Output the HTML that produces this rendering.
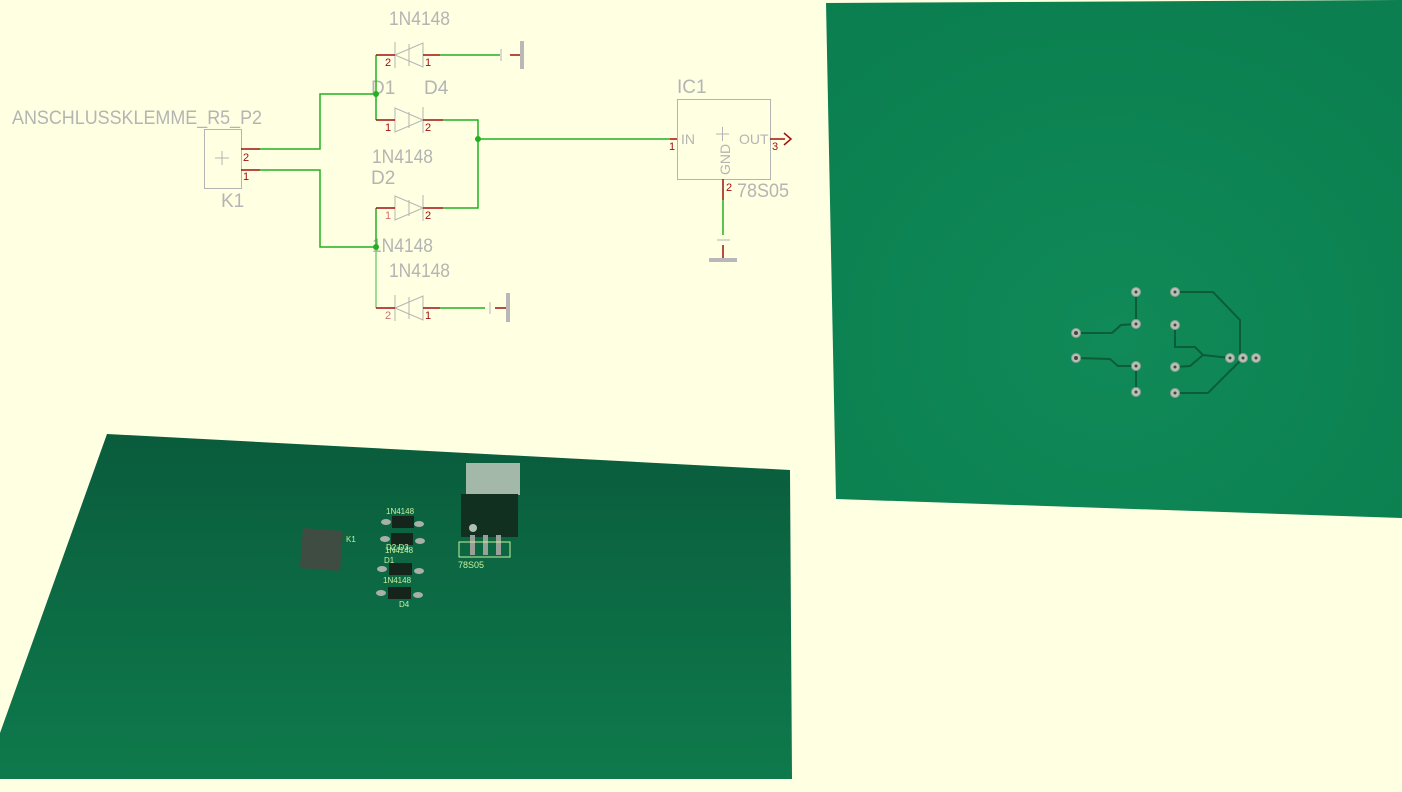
<!DOCTYPE html>
<html><head><meta charset="utf-8"><style>
html,body{margin:0;padding:0;background:#ffffe2;}
svg{display:block}
text{font-family:"Liberation Sans",sans-serif;}
</style></head><body>
<svg width="1402" height="792" viewBox="0 0 1402 792" xmlns="http://www.w3.org/2000/svg">
<defs>
<linearGradient id="g1" x1="0" y1="0" x2="0" y2="1">
<stop offset="0" stop-color="#0a5c3c"/><stop offset="1" stop-color="#0e7a4c"/>
</linearGradient>
<radialGradient id="g2" cx="0.5" cy="0.65" r="0.7">
<stop offset="0" stop-color="#108a58"/><stop offset="1" stop-color="#0b7f4f"/>
</radialGradient>
</defs>
<rect width="1402" height="792" fill="#ffffe2"/>
<!-- right PCB -->
<polygon points="826,3 1402,0 1402,518 836,499" fill="url(#g2)"/>
<g stroke="#0b5c38" stroke-width="2" fill="none">
<polyline points="1136,292 1136,324"/>
<polyline points="1076,333 1112,333 1121,325 1136,324"/>
<polyline points="1076,358 1110,359 1118,366 1136,366 1136,392"/>
<polyline points="1175,292 1213,292 1240,320 1240,358"/>
<polyline points="1175,325 1175,347 1195,347 1203,355 1230,358"/>
<polyline points="1175,367 1190,366 1203,355"/>
<polyline points="1175,393 1208,393 1243,358"/>
</g>
<g fill="#b8c0b8" stroke="#8ca08f" stroke-width="1">
<circle cx="1136" cy="292" r="4.5"/><circle cx="1175" cy="292" r="4.5"/>
<circle cx="1136" cy="324" r="4.5"/><circle cx="1175" cy="325" r="4.5"/>
<circle cx="1076" cy="333" r="4.5"/><circle cx="1076" cy="358" r="4.5"/>
<circle cx="1136" cy="366" r="4.5"/><circle cx="1175" cy="367" r="4.5"/>
<circle cx="1136" cy="392" r="4.5"/><circle cx="1175" cy="393" r="4.5"/>
<circle cx="1230" cy="358" r="4.5"/><circle cx="1243" cy="358" r="4.5"/><circle cx="1256" cy="358" r="4.5"/>
</g>
<g fill="#444">
<circle cx="1136" cy="292" r="1.5"/><circle cx="1175" cy="292" r="1.5"/><circle cx="1136" cy="324" r="1.5"/><circle cx="1175" cy="325" r="1.5"/><circle cx="1076" cy="333" r="2"/><circle cx="1076" cy="358" r="2"/><circle cx="1136" cy="366" r="1.5"/><circle cx="1175" cy="367" r="1.5"/><circle cx="1136" cy="392" r="1.5"/><circle cx="1175" cy="393" r="1.5"/><circle cx="1230" cy="358" r="1.5"/><circle cx="1243" cy="358" r="1.5"/><circle cx="1256" cy="358" r="1.5"/>
</g>
<!-- bottom PCB -->
<polygon points="107,434 790,470 792,779 0,779 0,733" fill="url(#g1)"/>
<polygon points="303,528 343,531 340,571 300,568" fill="#3f4c42"/>
<text x="346" y="542" font-size="8" fill="#c8f0a0">K1</text>
<!-- diodes -->
<g>
<g fill="#a8b0a8"><ellipse cx="386" cy="522" rx="5" ry="3"/><ellipse cx="419" cy="524" rx="5" ry="3"/><ellipse cx="385" cy="539" rx="5" ry="3"/><ellipse cx="420" cy="541" rx="5" ry="3"/><ellipse cx="382" cy="569" rx="5" ry="3"/><ellipse cx="419" cy="571" rx="5" ry="3"/><ellipse cx="381" cy="593" rx="5" ry="3"/><ellipse cx="418" cy="595" rx="5" ry="3"/></g>
<g fill="#15251c"><rect x="392" y="516" width="22" height="12"/><rect x="391" y="533" width="22" height="12"/><rect x="389" y="563" width="23" height="12"/><rect x="388" y="587" width="23" height="12"/></g>
<g fill="#c8f0a0" font-size="8"><text x="386" y="514">1N4148</text><text x="386" y="550">D2 D3</text><text x="385" y="553">1N4148</text><text x="384" y="563">D1</text><text x="383" y="583">1N4148</text><text x="399" y="607">D4</text></g>
</g>
<!-- IC -->
<rect x="466" y="463" width="54" height="32" fill="#a3b8a8"/>
<rect x="461" y="494" width="57" height="43" fill="#12301f"/>
<circle cx="473" cy="528" r="4" fill="#b0c0b0"/>
<g fill="#98a098"><rect x="470" y="535" width="5" height="20"/><rect x="483" y="535" width="5" height="20"/><rect x="496" y="535" width="5" height="20"/></g>
<rect x="459" y="542" width="51" height="15" fill="none" stroke="#c8f0a0" stroke-width="1"/>
<text x="458" y="568" font-size="9" fill="#c8f0a0">78S05</text>
<!-- schematic -->
<g font-size="19" fill="#b4b4b4">
<text x="12" y="124" textLength="250" lengthAdjust="spacingAndGlyphs">ANSCHLUSSKLEMME_R5_P2</text>
<text x="221" y="207">K1</text>
<text x="389" y="25" textLength="61" lengthAdjust="spacingAndGlyphs">1N4148</text>
<text x="371" y="94">D1</text><text x="424" y="94">D4</text>
<text x="372" y="163" textLength="61" lengthAdjust="spacingAndGlyphs">1N4148</text>
<text x="371" y="184">D2</text>
<text x="372" y="252" textLength="61" lengthAdjust="spacingAndGlyphs">1N4148</text>
<text x="389" y="277" textLength="61" lengthAdjust="spacingAndGlyphs">1N4148</text>
<text x="677" y="93">IC1</text>
<text x="737" y="197" textLength="52" lengthAdjust="spacingAndGlyphs">78S05</text>
</g>
<g font-size="14" fill="#b4b4b4">
<text x="681" y="144">IN</text><text x="739" y="144">OUT</text>
<text transform="translate(730,175) rotate(-90)">GND</text>
</g>
<!-- K1 box -->
<g stroke="#b4b4b4" fill="none" stroke-width="1">
<rect x="204.5" y="129.5" width="37" height="59"/>
<path d="M215 158h14M222 151v14"/>
<rect x="677.5" y="99.5" width="93" height="80"/>
<path d="M716 134h13M722.5 127v14"/>
<path d="M501 49v12M490 302v12M717 240h13"/>
<!-- diode triangles -->
<path d="M395 55 L423 43 L423 67 Z M395 42v26 M409 44v22"/>
<path d="M395 108 L395 132 L423 120 Z M423 107v26 M409 112v16"/>
<path d="M395 196 L395 220 L423 208 Z M423 195v26 M409 200v16"/>
<path d="M395 308 L423 296 L423 320 Z M395 295v26 M409 297v22"/>
</g>
<!-- green wires -->
<g stroke="#22b022" stroke-width="1.5" fill="none">
<polyline points="260,149 320,149 320,94 376,94"/>
<polyline points="260,170 320,170 320,247 376,247"/>
<polyline points="376,55 376,120"/>
<polyline points="376,208 376,247"/>
<polyline points="440,55 500,55"/>
<polyline points="443,120 478,120 478,208 443,208"/>
<polyline points="478,139 670,139"/>
<polyline points="440,308 485,308"/>
<polyline points="723,200 723,235"/>
</g>
<polyline points="376,247 376,308" stroke="#7ad07a" stroke-width="1.5" fill="none"/>
<g fill="#22b022"><circle cx="376" cy="94" r="3"/><circle cx="376" cy="247" r="3"/><circle cx="478" cy="139" r="3"/></g>
<!-- red pins -->
<g stroke="#a01010" stroke-width="1.5" fill="none">
<path d="M241 149h19M241 170h19"/>
<path d="M376 55h19M423 55h17M510 55h12"/>
<path d="M376 120h19M423 120h20"/>
<path d="M376 208h19M423 208h20"/>
<path d="M376 308h19M423 308h17M495 308h13"/>
<path d="M670 139h7M770 139h15M784 133l7 6l-7 6"/>
<path d="M723 179v21M723 245v13"/>
</g>
<g fill="#b8b8b8"><rect x="520" y="41" width="4" height="28"/><rect x="506" y="293" width="4" height="29"/><rect x="709" y="258" width="28" height="4"/></g>
<g font-size="11" fill="#a01010">
<text x="243" y="161">2</text><text x="243" y="180">1</text>
<text x="385" y="66">2</text><text x="425" y="66">1</text>
<text x="385" y="131">1</text><text x="425" y="131">2</text>
<text x="385" y="219" fill="#d07070">1</text><text x="425" y="219">2</text>
<text x="385" y="319" fill="#d07070">2</text><text x="425" y="319">1</text>
<text x="669" y="150">1</text><text x="772" y="150">3</text><text x="726" y="191">2</text>
</g>
</svg>
</body></html>
